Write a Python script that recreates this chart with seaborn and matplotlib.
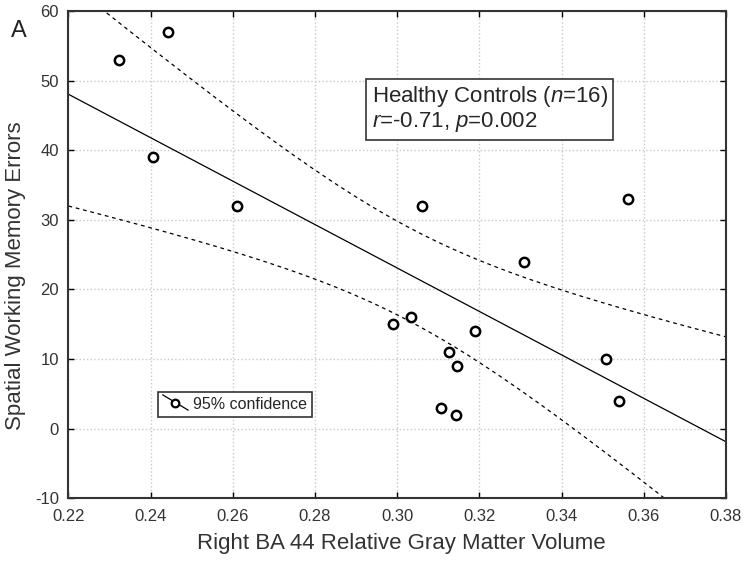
import numpy as np
import pandas as pd
import matplotlib
matplotlib.use("Agg")
import matplotlib.pyplot as plt
import seaborn as sns
from matplotlib.lines import Line2D
from matplotlib.legend_handler import HandlerBase

# values
gray_matter = [0.2322, 0.2441, 0.2405, 0.2609, 0.2991, 0.3034, 0.3061, 0.3107,
               0.3126, 0.3146, 0.3142, 0.3189, 0.3309, 0.3509, 0.3540, 0.3562]
swm_errors = [53, 57, 39, 32, 15, 16, 32, 3, 11, 9, 2, 14, 24, 10, 4, 33]

x_ticks = [0.22, 0.24, 0.26, 0.28, 0.30, 0.32, 0.34, 0.36, 0.38]
y_ticks = [-10, 0, 10, 20, 30, 40, 50, 60]

group_text = "Healthy Controls ($\\it{n}$=16)\n$\\it{r}$=-0.71, $\\it{p}$=0.002"
legend_text = "95% confidence"


class SlantHandler(HandlerBase):
    # little slanted line with an open circle, like the original legend key
    def create_artists(self, legend, orig_handle, xdescent, ydescent,
                       width, height, fontsize, trans):
        x0, x1 = -xdescent, -xdescent + width
        y0, y1 = -ydescent, -ydescent + height
        seg = Line2D([x0, x1], [y1 + 2, y0 - 1], color="black", lw=0.9, transform=trans)
        dot = Line2D([(x0 + x1) / 2], [(y0 + y1) / 2], marker="o", ms=5.5, mew=1.6,
                     mfc="white", mec="black", ls="none", transform=trans)
        return [seg, dot]


def main():
    df = pd.DataFrame({"gm": gray_matter, "err": swm_errors})

    sns.set_style("whitegrid")
    plt.rcParams["font.family"] = ["Liberation Sans", "DejaVu Sans"]
    plt.rcParams["mathtext.fontset"] = "custom"
    plt.rcParams["mathtext.it"] = "Liberation Sans:italic"
    plt.rcParams["mathtext.rm"] = "Liberation Sans"
    plt.rcParams["axes.unicode_minus"] = False

    fig = plt.figure(figsize=(7.47, 5.61), dpi=100)
    ax = fig.add_axes([0.0917, 0.112, 0.880, 0.868])

    ax.set_xlim(0.22, 0.38)
    ax.set_ylim(-10, 60)

    # fitted line and 95% confidence band of the mean
    sns.regplot(data=df, x="gm", y="err", ax=ax, scatter=False, ci=None,
                truncate=False, line_kws={"color": "black", "lw": 0.9})

    x = df["gm"].to_numpy()
    y = df["err"].to_numpy(dtype=float)
    n = len(x)
    b1, b0 = np.polyfit(x, y, 1)
    resid = y - (b0 + b1 * x)
    s = np.sqrt(np.sum(resid ** 2) / (n - 2))
    t = 2.1448  # t(0.975, 14)
    xs = np.linspace(0.22, 0.38, 200)
    fit = b0 + b1 * xs
    se = s * np.sqrt(1 / n + (xs - x.mean()) ** 2 / np.sum((x - x.mean()) ** 2))
    band = pd.DataFrame({"x": xs, "lo": fit - t * se, "hi": fit + t * se})
    sns.lineplot(data=band, x="x", y="lo", ax=ax, color="black", lw=0.9,
                 linestyle=(0, (3, 3)))
    sns.lineplot(data=band, x="x", y="hi", ax=ax, color="black", lw=0.9,
                 linestyle=(0, (3, 3)))

    sns.scatterplot(data=df, x="gm", y="err", ax=ax, marker="o", s=45,
                    facecolor="white", edgecolor="black", linewidth=1.8, zorder=5)

    ax.set_xticks(x_ticks)
    ax.set_xticklabels([f"{v:.2f}" for v in x_ticks])
    ax.set_yticks(y_ticks)
    ax.tick_params(direction="in", length=4, width=1, labelsize=12,
                   top=True, right=True, left=True, bottom=True, colors="black",
                   labelcolor="#333333")
    ax.tick_params(axis="x", pad=8)
    ax.tick_params(axis="y", pad=7)
    ax.grid(True, color="#c8c8c8", linestyle=":", linewidth=1.0)
    for sp in ax.spines.values():
        sp.set_color("#333333")
        sp.set_linewidth(1.5)

    ax.set_xlabel("Right BA 44 Relative Gray Matter Volume", fontsize=16,
                  color="#333333")
    ax.set_ylabel("Spatial Working Memory Errors", fontsize=16,
                  color="#333333")
    ax.xaxis.set_label_coords(0.507, -0.072)
    ax.yaxis.set_label_coords(-0.064, 0.456)

    ax.text(0.461, 0.85, group_text, transform=ax.transAxes, fontsize=16,
            va="top", ha="left", linespacing=1.05,
            bbox={"facecolor": "white", "edgecolor": "#333333", "lw": 1.2,
                  "boxstyle": "square,pad=0.25"})

    handle = Line2D([], [])
    ax.legend([handle], [legend_text], handler_map={Line2D: SlantHandler()},
              loc="upper left", bbox_to_anchor=(0.136, 0.218), fontsize=11.5,
              frameon=True, fancybox=False, edgecolor="#333333",
              framealpha=1, handlelength=1.6, handletextpad=0.3,
              borderpad=0.3, borderaxespad=0)
    ax.get_legend().get_frame().set_linewidth(1.2)

    fig.text(0.014, 0.934, "A", fontsize=17, color="#222222")

    fig.savefig("out.png", dpi=100)
    plt.close(fig)


if __name__ == "__main__":
    main()
